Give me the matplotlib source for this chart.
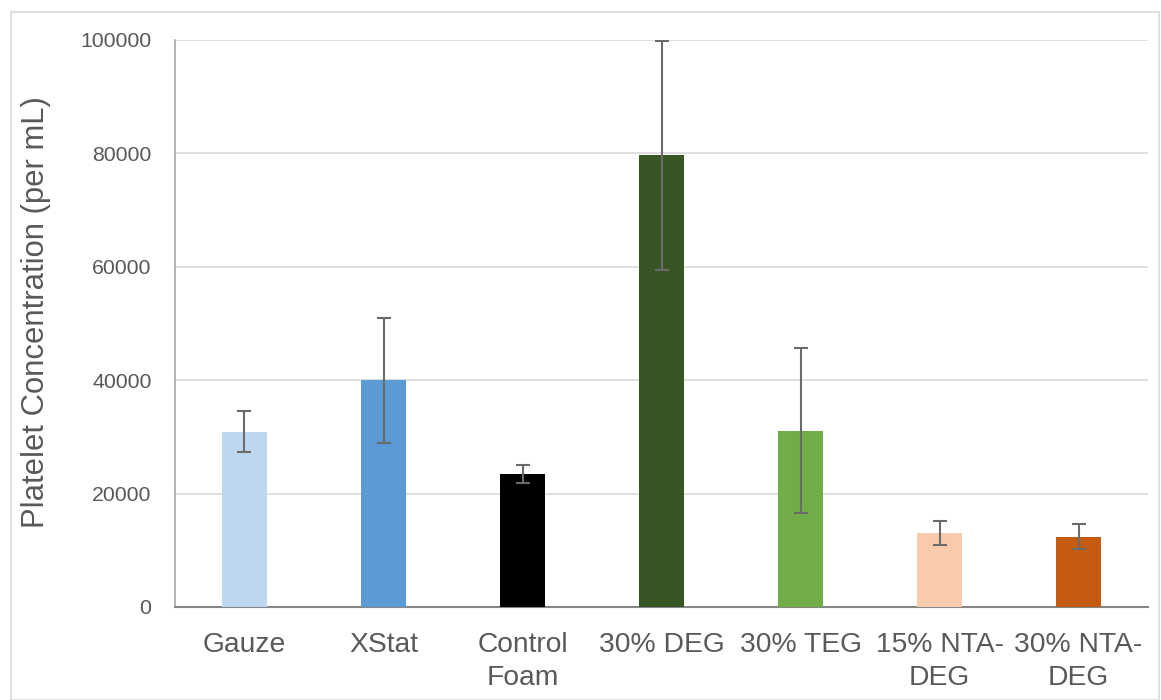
import matplotlib
matplotlib.use("Agg")
import matplotlib.pyplot as plt
from matplotlib.patches import Rectangle

categories = ["Gauze", "XStat", "Control\nFoam", "30% DEG", "30% TEG", "15% NTA-\nDEG", "30% NTA-\nDEG"]
values = [30900, 40000, 23500, 79700, 31100, 13100, 12400]
errors = [3650, 11000, 1600, 20200, 14500, 2100, 2200]
colors = ["#BDD7EE", "#5B9BD5", "#000000", "#375623", "#70AD47", "#F8CBAD", "#C55A11"]
yticks = [0, 20000, 40000, 60000, 80000, 100000]

plt.rcParams['font.family'] = ['Liberation Sans', 'DejaVu Sans']
txt = "#595959"

fig = plt.figure(figsize=(11.61, 7.0), dpi=100)
fig.patches.append(Rectangle((11/1161, 0.0), (1159-11)/1161, 1 - 12/700, transform=fig.transFigure,
                             fill=False, edgecolor="#d9d9d9", linewidth=1.2))
ax = fig.add_axes([175/1161, 1 - 607/700, (1148-175)/1161, (607-40)/700])

x = list(range(len(categories)))
ax.bar(x, values, width=0.32, color=colors, zorder=3)
ax.errorbar(x, values, yerr=errors, fmt="none", ecolor="#6b6b6b", elinewidth=1.5,
            capsize=5, capthick=1.5, zorder=4)

ax.set_xlim(-0.5, len(categories) - 0.5)
ax.set_ylim(0, 100000)
ax.set_yticks(yticks)
ax.set_yticklabels([str(v) for v in yticks], fontsize=15.3, color=txt)
ax.set_xticks(x)
ax.set_xticklabels(categories, fontsize=20.3, color=txt, linespacing=1.35)
ax.tick_params(axis="x", length=0, pad=18)
ax.tick_params(axis="y", length=0, pad=17)
ax.grid(axis="y", color="#d9d9d9", linewidth=1.2, zorder=0)
for s in ["top", "right"]:
    ax.spines[s].set_visible(False)
ax.spines["left"].set_color("#a6a6a6")
ax.spines["left"].set_linewidth(1.2)
ax.spines["bottom"].set_color("#868686")
ax.spines["bottom"].set_linewidth(1.5)
ax.set_ylabel("Platelet Concentration (per mL)", fontsize=22.3, color=txt)
ax.yaxis.set_label_coords(-124/973, 0.52)

fig.savefig("out.png", dpi=100)
